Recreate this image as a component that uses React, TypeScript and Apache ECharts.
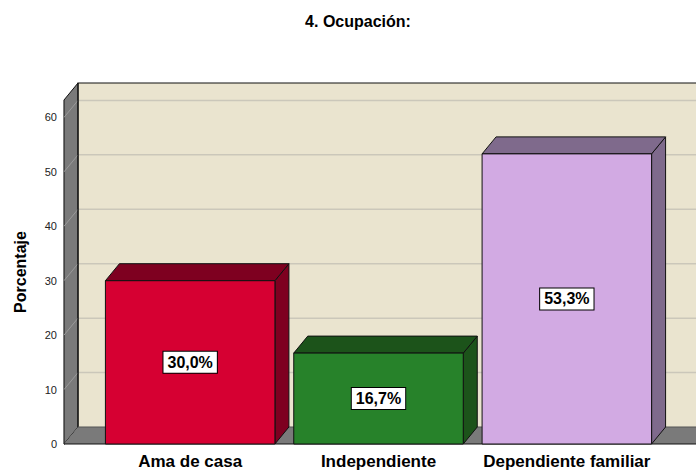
import React, { useEffect, useRef } from "react";
import * as echarts from "echarts";

const categories = ["Ama de casa", "Independiente", "Dependiente familiar"];
const percentages = [30.0, 16.7, 53.3];
const axisMax = 63.2;
const tickStep = 10;
const frontColors = ["#D60032", "#27822A", "#D2AAE3"];
const darkColors = ["#7E0020", "#1C531A", "#7F6A8C"];

const DX = 14;
const DY = 17;
const WALL_OFFSET = 32;

export default function App() {
  const ref = useRef<HTMLDivElement>(null);
  useEffect(() => {
    document.body.style.margin = "0";
    const chart = echarts.init(ref.current!, null, { renderer: "svg" });

    const frameItem = (params: any, api: any) => {
      const cs = params.coordSys;
      const W = api.getWidth();
      const xF = cs.x - WALL_OFFSET;
      const xB = xF + DX;
      const yBase = api.coord([0, 0])[1];
      const yTop = api.coord([0, axisMax])[1];
      const children: any[] = [];
      children.push({
        type: "rect",
        shape: { x: xB, y: yTop - DY, width: W - xB + 5, height: yBase - yTop },
        style: { fill: "#EAE4CF", stroke: "none" },
      });
      for (let v = tickStep; v <= axisMax; v += tickStep) {
        const y = api.coord([0, v])[1];
        children.push({
          type: "line",
          shape: { x1: xB, y1: y - DY, x2: W + 5, y2: y - DY },
          style: { stroke: "#CBC7BA", lineWidth: 1.5 },
        });
      }
      children.push({
        type: "polygon",
        shape: { points: [[xF, yTop], [xB, yTop - DY], [xB, yBase - DY], [xF, yBase]] },
        style: { fill: "#7A7A7A", stroke: "#111", lineWidth: 1 },
      });
      for (let v = tickStep; v <= axisMax; v += tickStep) {
        const y = api.coord([0, v])[1];
        children.push({
          type: "line",
          shape: { x1: xF, y1: y, x2: xB, y2: y - DY },
          style: { stroke: "#9A9A9A", lineWidth: 1 },
        });
      }
      children.push({
        type: "polygon",
        shape: { points: [[xF, yBase], [xB, yBase - DY], [W + 5, yBase - DY], [W + 5, yBase]] },
        style: { fill: "#7A7A7A", stroke: "none" },
      });
      children.push({
        type: "polyline",
        shape: { points: [[xB, yBase - DY], [xB, yTop - DY], [W + 5, yTop - DY]] },
        style: { stroke: "#111", lineWidth: 1.2, fill: "none" },
      });
      children.push({
        type: "line",
        shape: { x1: xB, y1: yBase - DY, x2: W + 5, y2: yBase - DY },
        style: { stroke: "#555", lineWidth: 1 },
      });
      children.push({
        type: "line",
        shape: { x1: xF, y1: yBase, x2: W + 5, y2: yBase },
        style: { stroke: "#111", lineWidth: 1.2 },
      });
      return { type: "group", children };
    };

    const barItem = (params: any, api: any) => {
      const idx = params.dataIndex;
      const x = api.value(0);
      const v = api.value(1);
      const top = api.coord([x, v]);
      const base = api.coord([x, 0]);
      const w = api.size([1, 0])[0] * 0.9;
      const l = top[0] - w / 2;
      const r = top[0] + w / 2;
      const t = top[1];
      const b = base[1];
      const label = v.toFixed(1).replace(".", ",") + "%";
      return {
        type: "group",
        children: [
          {
            type: "polygon",
            shape: { points: [[r, t], [r + DX, t - DY], [r + DX, b - DY], [r, b]] },
            style: { fill: darkColors[idx], stroke: "#111", lineWidth: 1 },
          },
          {
            type: "polygon",
            shape: { points: [[l, t], [l + DX, t - DY], [r + DX, t - DY], [r, t]] },
            style: { fill: darkColors[idx], stroke: "#111", lineWidth: 1 },
          },
          {
            type: "rect",
            shape: { x: l, y: t, width: r - l, height: b - t },
            style: { fill: frontColors[idx], stroke: "#111", lineWidth: 1 },
          },
          {
            type: "text",
            x: top[0],
            y: (t + b) / 2,
            style: {
              text: label,
              align: "center",
              verticalAlign: "middle",
              fill: "#000",
              font: "bold 16px 'Liberation Sans', Arial, sans-serif",
              backgroundColor: "#fff",
              borderColor: "#000",
              borderWidth: 1,
              padding: [3, 4, 2, 4],
            },
          },
        ],
      };
    };

    chart.setOption({
      animation: false,
      graphic: [
        {
          type: "text",
          x: 358,
          y: 21,
          style: {
            text: "4. Ocupación:",
            align: "center",
            verticalAlign: "middle",
            fill: "#000",
            font: "bold 16px 'Liberation Sans', Arial, sans-serif",
          },
        },
      ],
      grid: { left: 96, right: 35, top: 100, bottom: 25 },
      xAxis: {
        type: "category",
        data: categories,
        axisLine: { show: false },
        axisTick: { show: false },
        axisLabel: {
          color: "#000",
          fontWeight: "bold",
          fontSize: 17,
          fontFamily: "'Liberation Sans', Arial, sans-serif",
          margin: 9,
          interval: 0,
        },
      },
      yAxis: {
        type: "value",
        min: 0,
        max: axisMax,
        interval: tickStep,
        offset: WALL_OFFSET,
        name: "Porcentaje",
        nameLocation: "middle",
        nameGap: 36,
        nameTextStyle: {
          color: "#000",
          fontWeight: "bold",
          fontSize: 16,
          fontFamily: "'Liberation Sans', Arial, sans-serif",
        },
        axisLine: { show: true, lineStyle: { color: "#111", width: 1.2 } },
        axisTick: { show: false },
        splitLine: { show: false },
        axisLabel: {
          color: "#222",
          fontSize: 11,
          fontFamily: "'Liberation Sans', Arial, sans-serif",
          margin: 7,
          showMaxLabel: false,
        },
      },
      series: [
        {
          type: "custom",
          coordinateSystem: "cartesian2d",
          renderItem: frameItem,
          data: [[0, 0]],
          silent: true,
          z: 1,
        },
        {
          type: "custom",
          coordinateSystem: "cartesian2d",
          renderItem: barItem,
          data: categories.map((c, i) => [i, percentages[i]]),
          z: 3,
        },
      ],
    });
    return () => chart.dispose();
  }, []);
  return <div ref={ref} style={{ width: 696, height: 470 }} />;
}
